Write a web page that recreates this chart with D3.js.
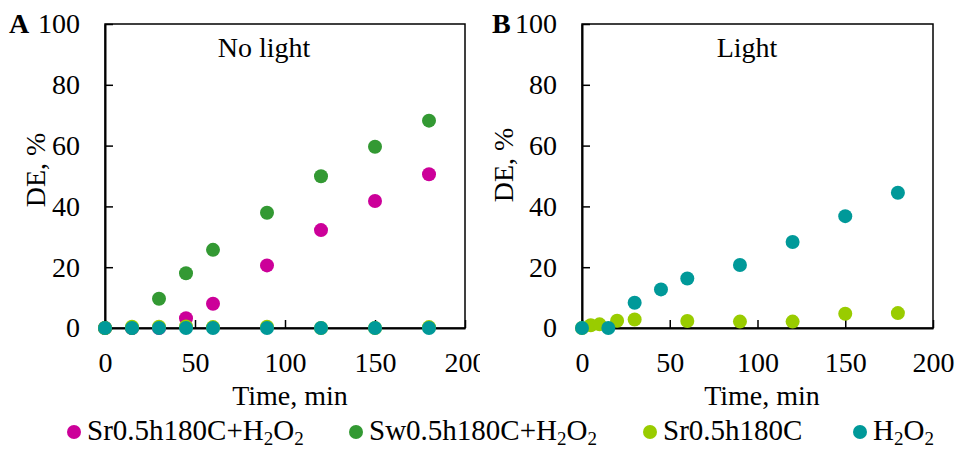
<!DOCTYPE html>
<html>
<head>
<meta charset="utf-8">
<script src="https://cdn.jsdelivr.net/npm/d3@7/dist/d3.min.js"></script>
<style>
  html, body { margin: 0; padding: 0; background: #fff; }
  svg { display: block; }
  text { font-family: "Liberation Serif", "Times New Roman", Times, "DejaVu Serif", serif; fill: #000; }
</style>
</head>
<body>
<svg id="chart" width="957" height="449"></svg>
<script>
// Sampling times (min)
const timeA = [0, 15, 30, 45, 60, 90, 120, 150, 180];
const timeB = [0, 15, 30, 45, 60, 90, 120, 150, 180];
const timeBSr = [0, 5, 10, 20, 30, 60, 90, 120, 150, 180];

// Panel A (no light): decolorization efficiency, %
const aSrH2O2 = [0, 0, 0, 3.2, 8.0, 20.6, 32.2, 41.8, 50.6];
const aSwH2O2 = [0, 0, 9.6, 18.0, 25.7, 37.9, 49.9, 59.6, 68.2];
const aSr     = [0, 0.4, 0.4, 0.5, 0.3, 0.4, 0, 0, 0.3];
const aH2O2   = [0, 0, 0, 0, 0, 0, 0, 0, 0];

// Panel B (light)
const bSr   = [0, 0.9, 1.2, 2.4, 2.8, 2.3, 2.1, 2.1, 4.7, 4.9];
const bH2O2 = [0, 0, 8.3, 12.7, 16.3, 20.7, 28.3, 36.8, 44.5];

const xTicks = [0, 50, 100, 150, 200];
const yTicks = [0, 20, 40, 60, 80, 100];

const seriesNames = ["Sr0.5h180C+H\u2082O\u2082", "Sw0.5h180C+H\u2082O\u2082", "Sr0.5h180C", "H\u2082O\u2082"];
const seriesColors = ["#cc0099", "#339933", "#99cc00", "#009999"];

const FONT = '"Liberation Serif", "Times New Roman", Times, "DejaVu Serif", serif';
const svg = d3.select("#chart");
const FS = 28;
const R = 7;

function panel(opts) {
  // nested svg clips anything that runs past the panel's right edge
  const g = svg.append("svg")
    .attr("x", 0).attr("y", 0)
    .attr("width", opts.clipW).attr("height", 449)
    .attr("overflow", "hidden");

  const x = d3.scaleLinear().domain([0, 200]).range([opts.left, opts.right]);
  const y = d3.scaleLinear().domain([0, 100]).range([opts.bottom, opts.top]);

  // frame
  g.append("rect")
    .attr("x", opts.left).attr("y", opts.top)
    .attr("width", opts.right - opts.left).attr("height", opts.bottom - opts.top)
    .attr("fill", "none").attr("stroke", "#000").attr("stroke-width", 1.5);

  const xAxis = g.append("g")
    .attr("transform", `translate(0,${opts.bottom})`)
    .call(d3.axisBottom(x).tickValues(xTicks).tickSizeInner(-8).tickSizeOuter(0).tickPadding(24).tickFormat(d3.format("d")));
  const yAxis = g.append("g")
    .attr("transform", `translate(${opts.left},0)`)
    .call(d3.axisLeft(y).tickValues(yTicks).tickSizeInner(-8).tickSizeOuter(0).tickPadding(25).tickFormat(d3.format("d")));

  [xAxis, yAxis].forEach(ax => {
    ax.attr("font-family", null).attr("font-size", null);
    ax.select(".domain").attr("stroke", "#000").attr("stroke-width", 2);
    ax.selectAll(".tick line").attr("stroke", "#000").attr("stroke-width", 1.5);
    ax.selectAll(".tick text")
      .style("font-family", FONT)
      .style("font-size", FS + "px").attr("fill", "#000");
  });

  // panel letter
  g.append("text")
    .attr("x", opts.letterX).attr("y", 33)
    .style("font-size", FS + "px").style("font-weight", "bold")
    .text(opts.letter);

  // condition title
  g.append("text")
    .attr("x", opts.titleX).attr("y", 57)
    .attr("text-anchor", "middle")
    .style("font-size", FS + "px")
    .text(opts.title);

  // axis titles
  g.append("text")
    .attr("x", opts.xTitleX).attr("y", 405)
    .attr("text-anchor", "middle")
    .style("font-size", FS + "px")
    .text("Time, min");

  g.append("text")
    .attr("transform", `translate(${opts.yTitleX},${opts.yTitleY}) rotate(-90)`)
    .attr("text-anchor", "middle")
    .style("font-size", FS + "px")
    .text("DE, %");

  // points, drawn in series order so the last series sits on top
  opts.series.forEach(s => {
    g.append("g").selectAll("circle")
      .data(s.values.map((v, i) => [s.times[i], v]))
      .join("circle")
      .attr("cx", d => x(d[0]))
      .attr("cy", d => y(d[1]))
      .attr("r", R)
      .attr("fill", s.color);
  });
}

panel({
  left: 105, right: 465, top: 24, bottom: 328, clipW: 480,
  letter: "A", letterX: 9, title: "No light", titleX: 264, xTitleX: 290,
  yTitleX: 45, yTitleY: 170,
  series: [
    { times: timeA, values: aSrH2O2, color: seriesColors[0] },
    { times: timeA, values: aSwH2O2, color: seriesColors[1] },
    { times: timeA, values: aSr, color: seriesColors[2] },
    { times: timeA, values: aH2O2, color: seriesColors[3] }
  ]
});

panel({
  left: 582, right: 933, top: 24, bottom: 328, clipW: 957,
  letter: "B", letterX: 492, title: "Light", titleX: 747, xTitleX: 762,
  yTitleX: 513, yTitleY: 165,
  series: [
    { times: timeBSr, values: bSr, color: seriesColors[2] },
    { times: timeB, values: bH2O2, color: seriesColors[3] }
  ]
});

// legend
const legendX = [74, 356, 650, 860];
const legend = svg.append("g");
seriesNames.forEach((name, i) => {
  legend.append("circle")
    .attr("cx", legendX[i]).attr("cy", 432).attr("r", R)
    .attr("fill", seriesColors[i]);
  const t = legend.append("text")
    .attr("x", legendX[i] + 13).attr("y", 440)
    .style("font-size", "29px");
  // split the label on subscript digits
  const parts = name.split(/(\u2082)/);
  let sub = false;
  parts.forEach(p => {
    if (!p) return;
    if (p === "\u2082") {
      t.append("tspan").attr("dy", 5).style("font-size", "19px").text("2");
      sub = true;
    } else {
      t.append("tspan").attr("dy", sub ? -5 : 0).text(p);
      sub = false;
    }
  });
});
</script>
</body>
</html>
